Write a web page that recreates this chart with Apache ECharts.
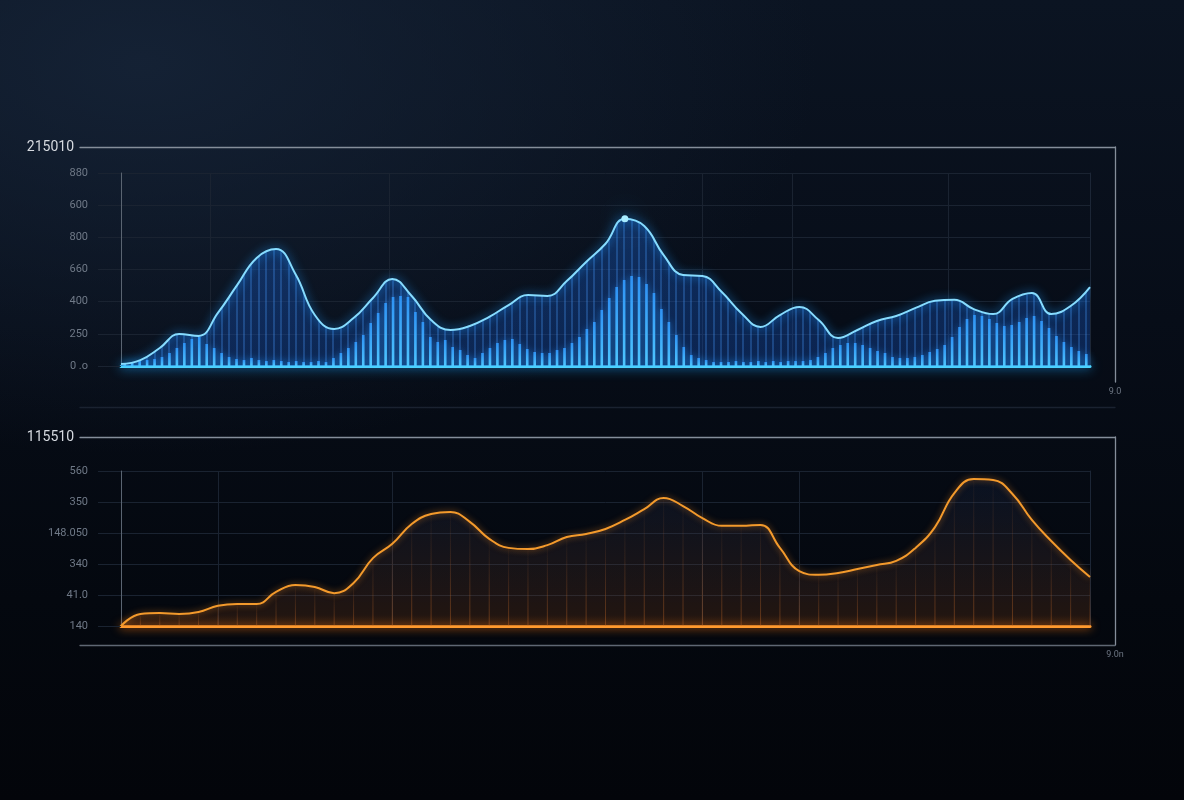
<!DOCTYPE html>
<html><head><meta charset="utf-8">
<script src="https://cdn.jsdelivr.net/npm/echarts@6.0.0/dist/echarts.min.js"></script>
<style>
html,body{margin:0;padding:0;width:1184px;height:800px;overflow:hidden;
background:
 radial-gradient(ellipse 900px 520px at 12% 8%, rgba(22,36,56,0.85) 0%, rgba(10,18,32,0) 75%),
 linear-gradient(180deg,#0b1422 0%,#070d18 40%,#04080f 75%,#03050a 100%);}
#chart{width:1184px;height:800px;}
</style></head><body><div id="chart"></div>
<script>
// ---- text ----
const topTitle = '215010';
const bottomTitle = '115510';
const topCornerLabel = '9.0';
const bottomCornerLabel = '9.0n';
const topTickLabels = ['0 .o', '250', '400', '660', '800', '600', '880'];
const bottomTickLabels = ['140', '41.0', '340', '148.050', '350', '560'];

// ---- data ----
const topLine = [12, 37, 112, 199, 187, 330, 504, 672, 727, 572, 317, 230, 298, 423, 541, 435, 286, 224, 249, 305,
  379, 441, 435, 528, 647, 760, 915, 870, 690, 566, 560, 460, 330, 243, 317, 367, 286, 174, 224, 280,
  311, 361, 405, 412, 354, 323, 417, 454, 323, 373, 491];
const topBars = [19, 25, 31, 37, 44, 56, 81, 112, 143, 168, 180, 137, 112, 81, 56, 44, 37, 50, 37, 31,
  37, 31, 25, 31, 25, 25, 31, 25, 50, 81, 112, 149, 193, 267, 330, 392, 429, 435, 429, 336,
  274, 180, 149, 162, 118, 99, 68, 50, 81, 112, 143, 162, 168, 137, 106, 87, 81, 81, 99, 112,
  143, 180, 230, 274, 348, 423, 491, 535, 560, 553, 510, 454, 354, 274, 193, 118, 68, 50, 37, 25,
  25, 25, 31, 25, 25, 31, 25, 31, 25, 31, 31, 31, 37, 56, 81, 112, 131, 143, 143, 131,
  112, 93, 81, 56, 50, 50, 56, 68, 87, 106, 131, 180, 243, 292, 317, 311, 292, 267, 249, 255,
  274, 298, 311, 280, 236, 187, 149, 118, 93, 75];
const bottomLine = [0, 39, 42, 39, 45, 65, 71, 71, 110, 132, 126, 106, 139, 219, 265, 329, 361, 368, 336, 281,
  252, 248, 261, 287, 297, 313, 342, 377, 413, 387, 348, 323, 323, 326, 252, 177, 165, 171, 184, 197,
  210, 252, 319, 429, 474, 471, 426, 342, 274, 213, 158];
const topLineCats = topLine.map((v, i) => String(i));
const topBarCats = topBars.map((v, i) => String(i));
const bottomLineCats = bottomLine.map((v, i) => String(i));
const topGridBoundaries = [12, 36, 78, 90, 111];
const bottomGridTicks = [5, 14, 30, 35];

const FONT = 'Roboto, "DejaVu Sans", sans-serif';
const gridColor = '#1a2331';
const frameColor = '#858e9a';

function frameX(gridIndex, position, lineColor, name, offset) {
  return {gridIndex, type: 'value', min: 0, max: 1, position, offset: offset || 0,
    axisLine: {show: true, onZero: false, lineStyle: {color: lineColor, width: 1.3}},
    axisTick: {show: false}, axisLabel: {show: false}, splitLine: {show: false},
    name: name || '', nameLocation: 'start', nameGap: 6,
    nameTextStyle: {color: '#d6dae0', fontSize: 14, fontFamily: FONT}};
}
function frameY(gridIndex, name) {
  return {gridIndex, type: 'value', min: 0, max: 1, position: 'right',
    axisLine: {show: true, onZero: false, lineStyle: {color: frameColor, width: 1.3}},
    axisTick: {show: false}, axisLabel: {show: false}, splitLine: {show: false},
    name, nameLocation: 'start', nameGap: 5,
    nameTextStyle: {color: '#6d7683', fontSize: 9, fontFamily: FONT}};
}
function edgeY(gridIndex, max) {
  return {gridIndex, type: 'value', min: 0, max, position: 'right',
    axisLine: {show: true, lineStyle: {color: '#1c2636', width: 1}},
    axisTick: {show: false}, axisLabel: {show: false}, splitLine: {show: false}};
}

const chart = echarts.init(document.getElementById('chart'), null, {renderer: 'canvas'});

const option = {
  backgroundColor: 'transparent',
  animation: false,
  textStyle: {fontFamily: FONT},
  grid: [
    {left: 121, top: 173, width: 969, height: 193, outerBoundsMode: 'none', containLabel: false},
    {left: 80, top: 147, width: 1035, height: 235, outerBoundsMode: 'none', containLabel: false},
    {left: 121, top: 471, width: 969, height: 155, outerBoundsMode: 'none', containLabel: false},
    {left: 80, top: 437, width: 1035, height: 208, outerBoundsMode: 'none', containLabel: false}
  ],
  xAxis: [
    {gridIndex: 0, type: 'category', data: topLineCats, boundaryGap: false, show: false},
    {gridIndex: 0, type: 'category', data: topBarCats, boundaryGap: true,
      axisLine: {show: true, lineStyle: {color: '#4fd8ff', width: 3, shadowBlur: 12, shadowColor: '#1aa8ff'}},
      axisTick: {show: false}, axisLabel: {show: false},
      splitLine: {show: true, interval: (i) => topGridBoundaries.indexOf(i) >= 0, lineStyle: {color: gridColor, width: 1}}},
    frameX(1, 'top', frameColor, topTitle),
    frameX(1, 'bottom', '#1a2230', '', 25),
    {gridIndex: 2, type: 'category', data: bottomLineCats, boundaryGap: false,
      axisLine: {show: true, lineStyle: {color: '#ff9a2e', width: 3, shadowBlur: 10, shadowColor: '#ff7a10'}},
      axisTick: {show: false}, axisLabel: {show: false},
      splitLine: {show: true, interval: (i) => bottomGridTicks.indexOf(i) >= 0, lineStyle: {color: gridColor, width: 1}}},
    frameX(3, 'top', frameColor, bottomTitle),
    frameX(3, 'bottom', '#5f6773', '')
  ],
  yAxis: [
    {gridIndex: 0, type: 'value', min: 0, max: 1200, interval: 200,
      axisLine: {show: true, lineStyle: {color: '#5a6471', width: 1}},
      axisTick: {show: true, length: 23, lineStyle: {color: gridColor}},
      axisLabel: {color: '#6f7987', fontSize: 11, margin: 33, formatter: (v) => topTickLabels[Math.round(v / 200)]},
      splitLine: {show: true, lineStyle: {color: gridColor, width: 1}}},
    frameY(1, topCornerLabel),
    {gridIndex: 2, type: 'value', min: 0, max: 500, interval: 100,
      axisLine: {show: true, lineStyle: {color: '#5a6471', width: 1}},
      axisTick: {show: true, length: 23, lineStyle: {color: gridColor}},
      axisLabel: {color: '#6f7987', fontSize: 11, margin: 33, formatter: (v) => bottomTickLabels[Math.round(v / 100)]},
      splitLine: {show: true, lineStyle: {color: gridColor, width: 1}}},
    frameY(3, bottomCornerLabel),
    edgeY(0, 1200),
    edgeY(2, 500)
  ],
  series: [
    {id: 'topArea', type: 'line', xAxisIndex: 0, yAxisIndex: 0, data: topLine, smooth: 0.45,
      symbol: 'none', silent: true, z: 1,
      lineStyle: {width: 0, opacity: 0},
      areaStyle: {opacity: 1, color: 'rgba(22,80,175,0.43)'}},
    {id: 'topBars', type: 'bar', xAxisIndex: 1, yAxisIndex: 0, data: topBars, barWidth: 2.6, z: 2, silent: true,
      itemStyle: {color: {type: 'linear', x: 0, y: 0, x2: 0, y2: 1,
        colorStops: [{offset: 0, color: '#2f92f4'}, {offset: 1, color: '#4fc8ff'}]},
        shadowBlur: 7, shadowColor: 'rgba(40,150,255,0.8)'}},
    {id: 'topLine', type: 'line', xAxisIndex: 0, yAxisIndex: 0, data: topLine, smooth: 0.45,
      symbol: 'none', z: 3,
      lineStyle: {color: '#86dcff', width: 2, shadowBlur: 10, shadowColor: '#1e9bff'},
      markPoint: {symbol: 'circle', symbolSize: 7, data: [{type: 'max'}], label: {show: false},
        itemStyle: {color: '#a8ecff', shadowBlur: 26, shadowColor: '#1a9dff'}}},
    {id: 'bottomStripes', type: 'bar', xAxisIndex: 4, yAxisIndex: 2, data: bottomLine, barWidth: 1, z: 1, silent: true,
      itemStyle: {color: {type: 'linear', x: 0, y: 0, x2: 0, y2: 1,
        colorStops: [{offset: 0, color: 'rgba(200,110,50,0.05)'}, {offset: 1, color: 'rgba(235,125,45,0.40)'}]}}},
    {id: 'bottomLine', type: 'line', xAxisIndex: 4, yAxisIndex: 2, data: bottomLine, smooth: 0.45,
      symbol: 'none', z: 2,
      lineStyle: {color: '#f39a2c', width: 2, shadowBlur: 6, shadowColor: 'rgba(255,140,30,0.6)'},
      areaStyle: {opacity: 1, color: {type: 'linear', x: 0, y: 0, x2: 0, y2: 1,
        colorStops: [{offset: 0, color: 'rgba(30,50,90,0.22)'}, {offset: 1, color: 'rgba(120,60,20,0.28)'}]}}}
  ]
};
chart.setOption(option);

// striped texture for the top area, stripes placed at the bar axis positions
try {
  const c = document.createElement('canvas');
  c.width = 1184; c.height = 800;
  const g = c.getContext('2d');
  const yTop = chart.convertToPixel({yAxisIndex: 0}, 1200);
  const yBase = chart.convertToPixel({yAxisIndex: 0}, 0);
  const grad = g.createLinearGradient(0, yTop, 0, yBase);
  grad.addColorStop(0, 'rgba(26,90,185,0.45)');
  grad.addColorStop(1, 'rgba(18,70,160,0.42)');
  g.fillStyle = grad;
  g.fillRect(0, 0, c.width, c.height);
  g.fillStyle = 'rgba(70,150,245,0.30)';
  topBars.forEach((v, i) => {
    const x = chart.convertToPixel({xAxisIndex: 1}, i);
    g.fillRect(Math.round(x) - 1, 0, 2, c.height);
  });
  chart.setOption({series: [{id: 'topArea', areaStyle: {color: {image: c, repeat: 'no-repeat'}}}]});
} catch (e) { console.error(e); }
</script></body></html>
